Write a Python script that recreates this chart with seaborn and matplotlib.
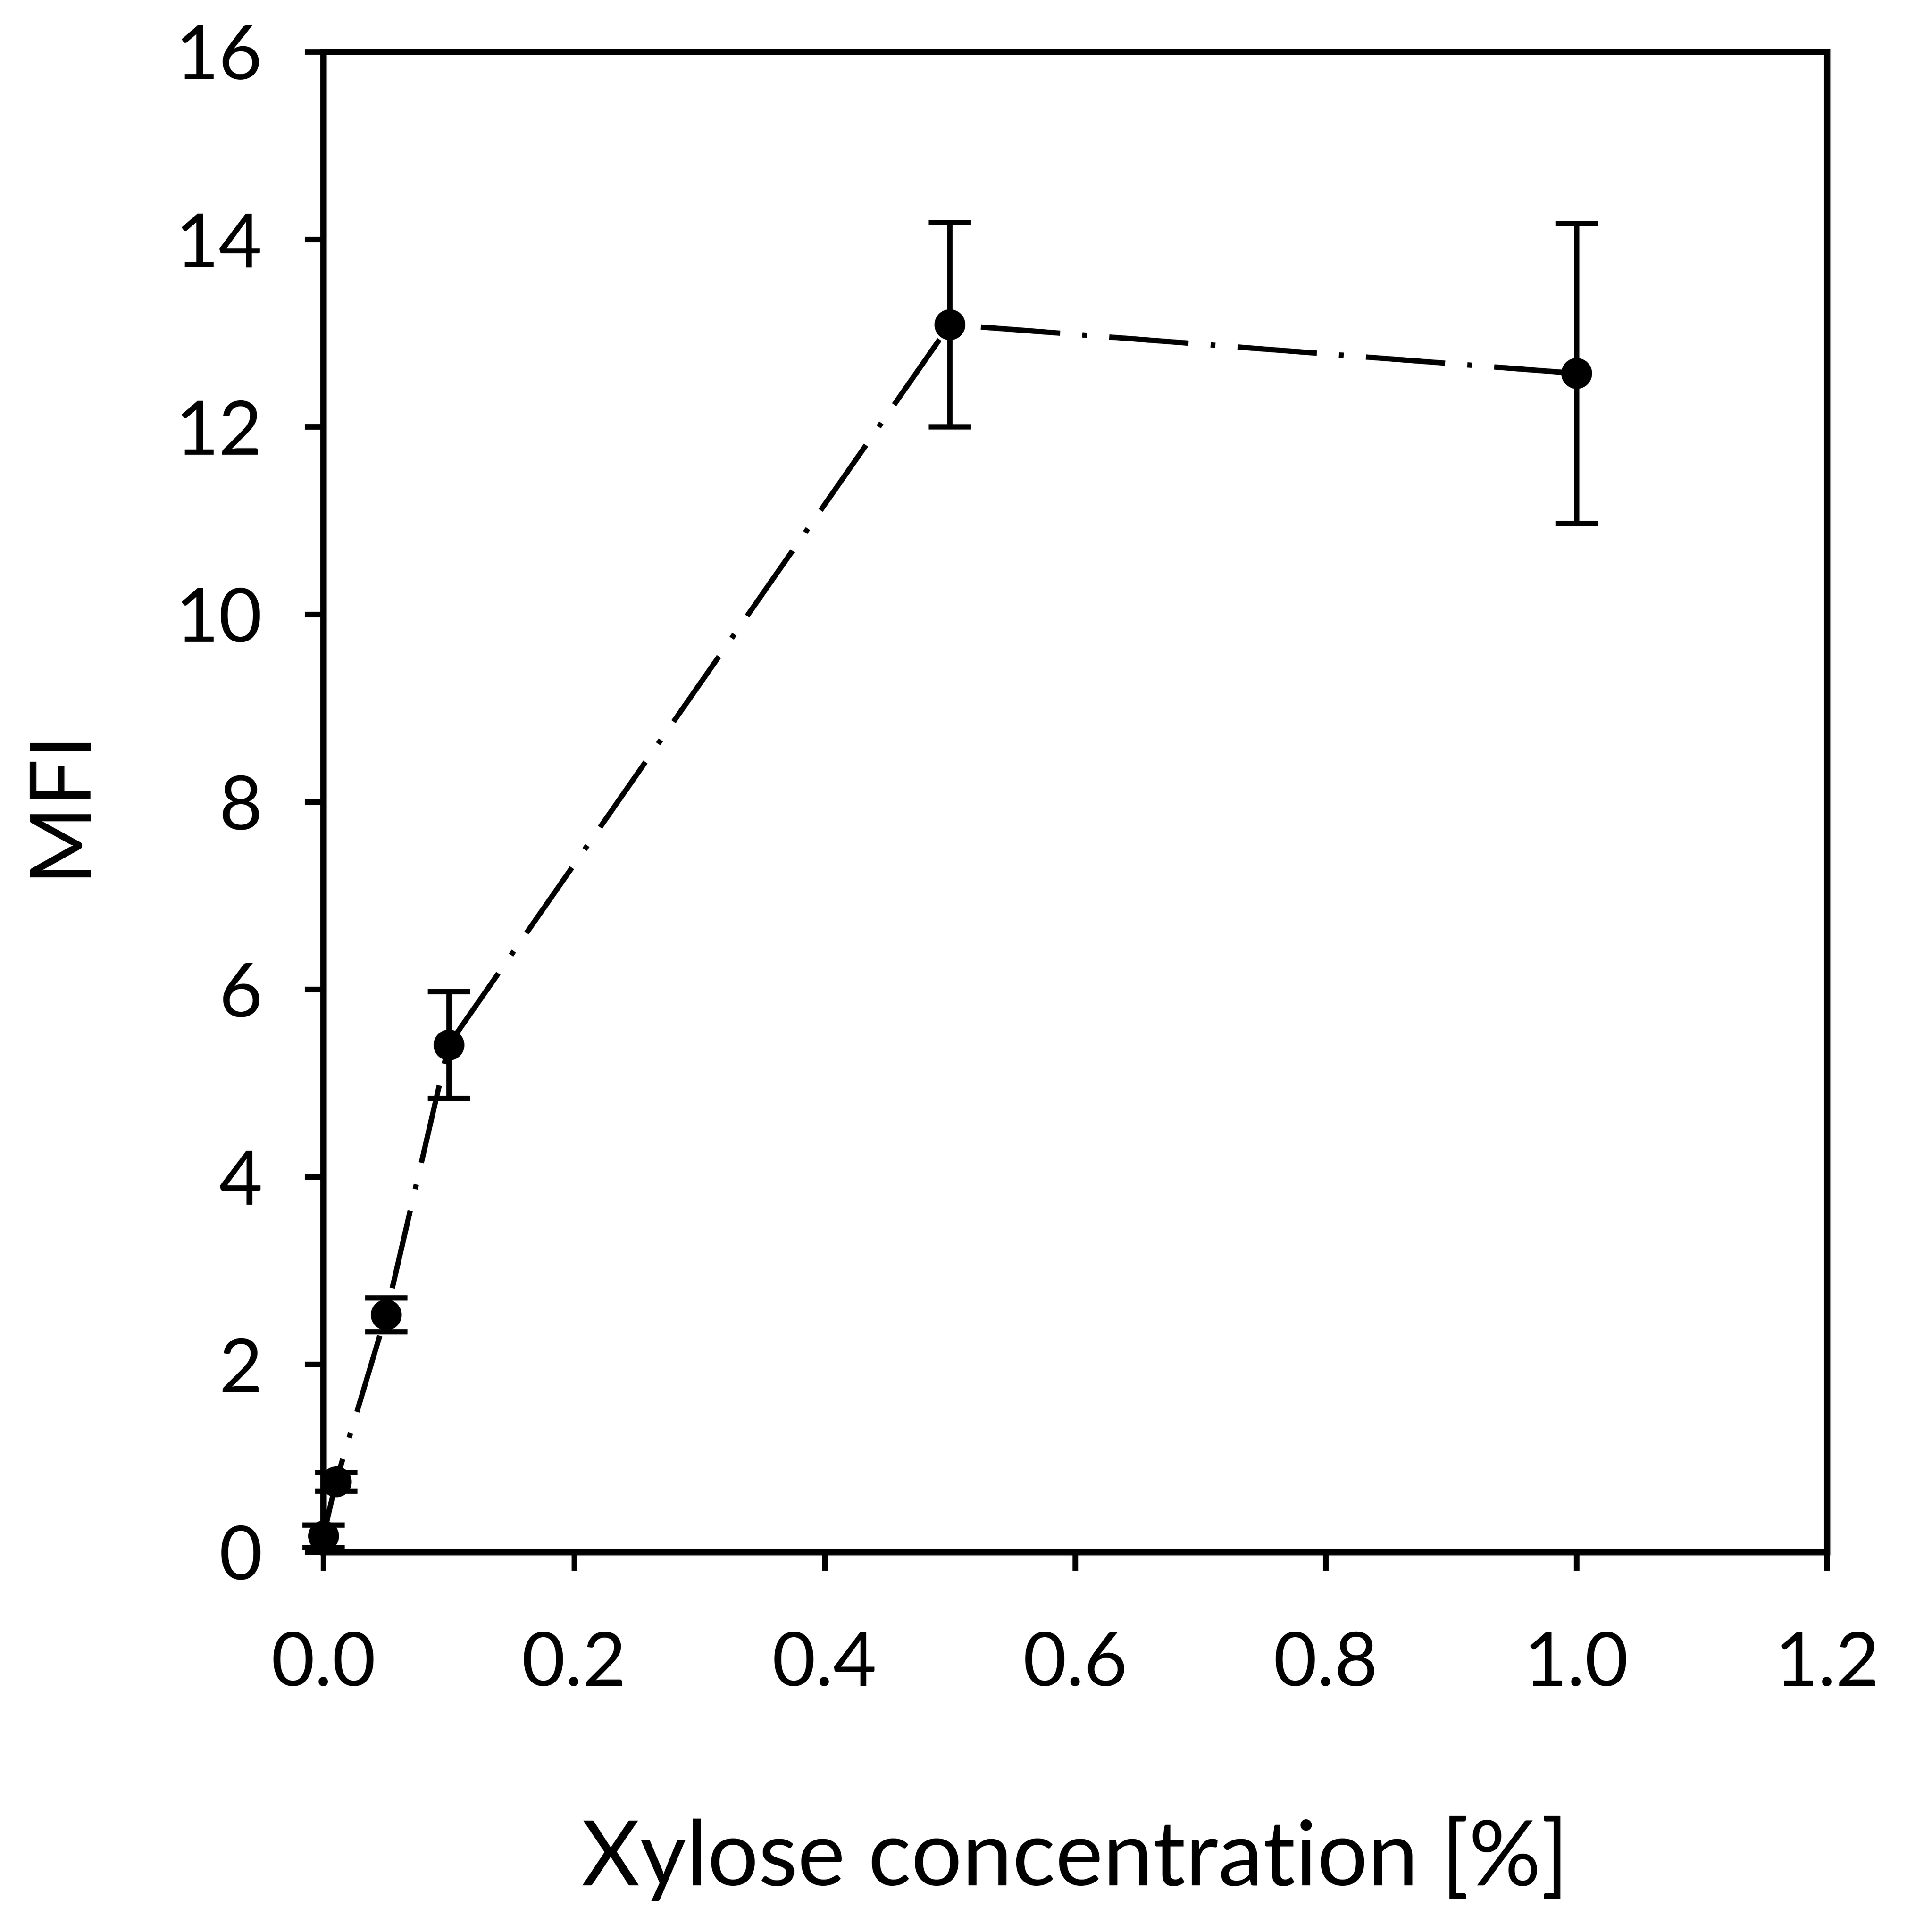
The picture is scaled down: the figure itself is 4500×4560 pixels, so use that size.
import matplotlib
matplotlib.use("Agg")
import matplotlib.pyplot as plt
import seaborn as sns
import pandas as pd

# data
xylose = [0.0, 0.01, 0.05, 0.1, 0.5, 1.0]
mfi = [0.17, 0.75, 2.53, 5.41, 13.09, 12.57]
mfi_err = [0.12, 0.10, 0.18, 0.57, 1.09, 1.60]

x_ticks = [0.0, 0.2, 0.4, 0.6, 0.8, 1.0, 1.2]
y_ticks = [0, 2, 4, 6, 8, 10, 12, 14, 16]

df = pd.DataFrame({"xylose": xylose, "mfi": mfi, "err": mfi_err})

sns.set_theme(style="ticks")
plt.rcParams["font.family"] = ["Lato", "DejaVu Sans"]

fig = plt.figure(figsize=(15, 15.2), dpi=300)
ax = fig.add_axes([0.1696, 0.1967, 0.7884, 0.7765])

# error bars
ax.errorbar(df["xylose"], df["mfi"], yerr=df["err"], fmt="none",
            ecolor="black", elinewidth=3.0, capsize=12, capthick=3.0,
            clip_on=False, zorder=3)

# dash-dot line with filled markers
sns.lineplot(data=df, x="xylose", y="mfi", ax=ax, color="black",
             linewidth=3.0, marker="o", markersize=17.5,
             markeredgecolor="black", markerfacecolor="black",
             markeredgewidth=0, zorder=4)
for ln in ax.lines:
    if ln.get_marker() == "o":
        ln.set_linestyle((0, (15, 4.2, 0.9, 4.2)))
        ln.set_clip_on(False)

ax.set_xlim(0, 1.2)
ax.set_ylim(0, 16)
ax.set_xticks(x_ticks)
ax.set_xticklabels([f"{v:.1f}" for v in x_ticks])
ax.set_yticks(y_ticks)
ax.set_yticklabels([str(v) for v in y_ticks])

for side in ["left", "right", "top", "bottom"]:
    ax.spines[side].set_visible(True)
    ax.spines[side].set_linewidth(3.6)
    ax.spines[side].set_color("black")

ax.tick_params(axis="both", direction="out", length=10.5, width=3.2,
               color="black", labelsize=42.5, labelcolor="black")
ax.tick_params(axis="x", pad=34)
ax.tick_params(axis="y", pad=24)

ax.set_xlabel("Xylose concentration [%]", fontsize=51, color="black")
ax.set_ylabel("MFI", fontsize=48, color="black")
ax.xaxis.set_label_coords(0.5, -0.176)
ax.yaxis.set_label_coords(-0.15, 0.5)

fig.savefig("out.png", dpi=300, facecolor="white")
